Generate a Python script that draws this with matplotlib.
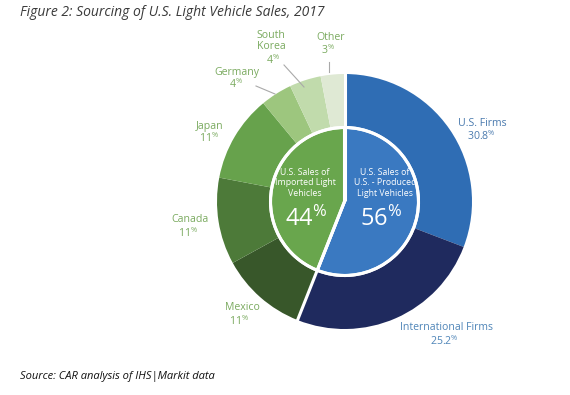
import matplotlib
matplotlib.use("Agg")
import matplotlib.pyplot as plt
import numpy as np

# ---- data ----
outer_labels = ["U.S. Firms", "International Firms", "Mexico", "Canada",
                "Japan", "Germany", "South\nKorea", "Other"]
outer_values = [30.8, 25.2, 11, 11, 11, 4, 4, 3]
inner_labels = ["U.S. Sales of\nU.S. - Produced\nLight Vehicles",
                "U.S. Sales of\nImported Light\nVehicles"]
inner_values = [56, 44]

title = "Figure 2: Sourcing of U.S. Light Vehicle Sales, 2017"
source = "Source: CAR analysis of IHS|Markit data"

outer_colors = ["#2f6db4", "#1f2a5e", "#38572a", "#4d7a39", "#67a24c",
                "#9dc67e", "#c1dbac", "#dfe9d4"]
inner_colors = ["#3a79c1", "#69a64d"]
label_colors = ["#4a7aae", "#4f85b8"] + ["#7aaa5f"] * 6

plt.rcParams["mathtext.fontset"] = "custom"
plt.rcParams["mathtext.rm"] = "Open Sans"
plt.rcParams["mathtext.default"] = "rm"

W, H = 570, 395
fig = plt.figure(figsize=(W / 100, H / 100), dpi=100)
fig.patch.set_facecolor("white")

cx, cy = 344.5, 201.5  # pie centre in pixels (top-down)
half = 200
ax = fig.add_axes([(cx - half) / W, (H - cy - half) / H, 2 * half / W, 2 * half / H])

R_out, R_in = 127.5, 74

def P(px, py):
    return px - cx, cy - py

# outer ring
ax.pie(outer_values, radius=R_out, colors=outer_colors, startangle=90,
       counterclock=False, wedgeprops=dict(width=R_out - R_in, linewidth=0.3,
                                           edgecolor="none"))
# inner pie
ax.pie(inner_values, radius=R_in, colors=inner_colors, startangle=90,
       counterclock=False, wedgeprops=dict(linewidth=2.2, edgecolor="white"))

ax.set_xlim(-half, half)
ax.set_ylim(-half, half)
ax.set_aspect("equal")
ax.axis("off")

# white separators at the two group boundaries across the full radius
cum = 0
for v in inner_values:
    ang = np.deg2rad(90 - cum / sum(inner_values) * 360)
    ax.plot([0, R_out * 1.01 * np.cos(ang)], [0, R_out * 1.01 * np.sin(ang)],
            color="white", lw=2.2, solid_capstyle="butt", zorder=5)
    cum += v
circ = plt.Circle((0, 0), R_in, fill=False, ec="white", lw=2.2, zorder=6)
ax.add_patch(circ)

font = "Open Sans"

# outer labels: (name position, pct position) in pixels
label_pos = [((482, 123), (481, 136)),
             ((446, 328), (444, 341)),
             ((242, 308), (239, 321)),
             ((190, 220), (188, 233)),
             ((210, 126), (209, 138)),
             ((237, 72), (236, 84)),
             ((271, 41), (273, 60)),
             ((331, 38), (328, 50))]
for name, val, col, (npos, ppos) in zip(outer_labels, outer_values,
                                        label_colors, label_pos):
    ax.text(*P(*npos), name, ha="center", va="center", color=col,
            fontsize=7.6, family=font, linespacing=1.0, fontweight="medium")
    ax.text(*P(*ppos), f"{val:g}" + r"$^{\%}$", ha="center", va="center",
            color=col, fontsize=7.6, family=font, fontweight="medium")

# leader lines
leaders = [((329, 62), (329, 72)), ((284, 65), (304, 87)), ((256, 86), (275, 94))]
for a, b in leaders:
    xa, ya = P(*a)
    xb, yb = P(*b)
    ax.plot([xa, xb], [ya, yb], color="#a9a9a9", lw=0.8, zorder=4)

# inner labels
ax.text(*P(385, 183), inner_labels[0], ha="center", va="center", color="white",
        fontsize=6.3, family=font, linespacing=1.2, zorder=7)
ax.text(*P(305, 183), inner_labels[1], ha="center", va="center", color="white",
        fontsize=6.3, family=font, linespacing=1.2, zorder=7)
ax.text(*P(381, 219), f"{inner_values[0]}" + r"$^{\%}$", ha="center", va="center",
        color="white", fontsize=17, family=font, zorder=7)
ax.text(*P(306, 219), f"{inner_values[1]}" + r"$^{\%}$", ha="center", va="center",
        color="white", fontsize=17, family=font, zorder=7)

fig.text(20 / W, 1 - 12 / H, title, ha="left", va="center", fontsize=10,
         style="italic", color="#3a3a3a", family="Open Sans")
fig.text(20 / W, 1 - 377 / H, source, ha="left", va="center", fontsize=8,
         style="italic", color="#111111", family="Open Sans")

fig.savefig("out.png", dpi=100, facecolor="white")
